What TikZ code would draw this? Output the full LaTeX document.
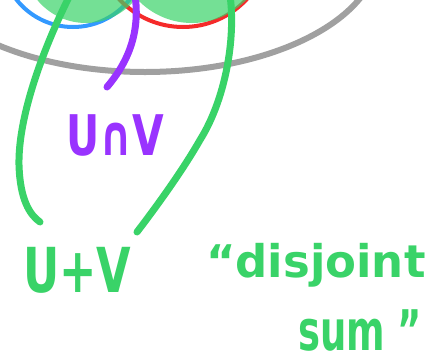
\documentclass[tikz,border=0pt]{standalone}
\usepackage{fontspec}
\setmainfont{DejaVu Sans}
\usetikzlibrary{calc}
\definecolor{penGreen}{HTML}{39D368}
\definecolor{penPurple}{HTML}{9933FF}
\definecolor{penBlue}{HTML}{3399FF}
\definecolor{penRed}{HTML}{F52A2A}
\definecolor{penGrey}{HTML}{A0A0A0}
\newcommand{\squeeze}[2]{\scalebox{#1}[1]{#2}}

\begin{document}
\begin{tikzpicture}[x=1pt, y=-1pt,
    stroke/.style={draw=#1, line width=7pt, line cap=round},
    rim/.style={draw=#1, line width=4pt},
    setfill/.style={fill=penGreen, fill opacity=0.7},
    hand/.style={text=#1, inner sep=0pt, anchor=base west},
]
    \useasboundingbox[fill=white] (0,0) rectangle (438,362);
    \clip (0,0) rectangle (438,362);

    % the space and the two sets
    \draw[penGrey, line width=6pt] (145,-48) ellipse [x radius=233, y radius=120];
    \draw[rim=penBlue] (73,-45) circle [radius=72];
    \draw[rim=penRed] (183,-60) circle [radius=87];
    \fill[setfill] (86,-40) circle [radius=63];
    \fill[setfill] (192,-52) circle [radius=75];

    % ends of the strokes
    \coordinate (leftSet) at (70,-5);
    \coordinate (rightSet) at (230,-5);
    \coordinate (meet) at (135,-5);
    \coordinate (sumL) at (40,222);
    \coordinate (sumR) at (137,232);
    \coordinate (capEnd) at (107,87);

    % labels
    \node[hand=penPurple, font=\fontsize{56}{56}\selectfont\bfseries] (cap) at (66,155) {\squeeze{0.73}{U∩V}};
    \node[hand=penGreen, font=\fontsize{62}{62}\selectfont\bfseries] (plus) at (23,292) {\squeeze{0.72}{U+V}};
    \node[hand=penGreen, font=\fontsize{45}{45}\selectfont\bfseries] (disj) at (206,277) {“disjoint};
    \node[hand=penGreen, text depth=0pt, font=\fontsize{56}{56}\selectfont\bfseries] (sum) at (298,350) {\squeeze{0.66}{sum ”}};

    \draw[stroke=penGreen] (leftSet) .. controls (40,55) and (18,120) .. (19,165)
        .. controls (20,200) and (30,215) .. (sumL);
    \draw[stroke=penGreen] (rightSet) .. controls (236,40) and (225,100) .. (200,140)
        .. controls (180,175) and (150,215) .. (sumR);
    \draw[stroke=penPurple] (meet) .. controls (140,30) and (130,60) .. (capEnd);
\end{tikzpicture}
\end{document}
